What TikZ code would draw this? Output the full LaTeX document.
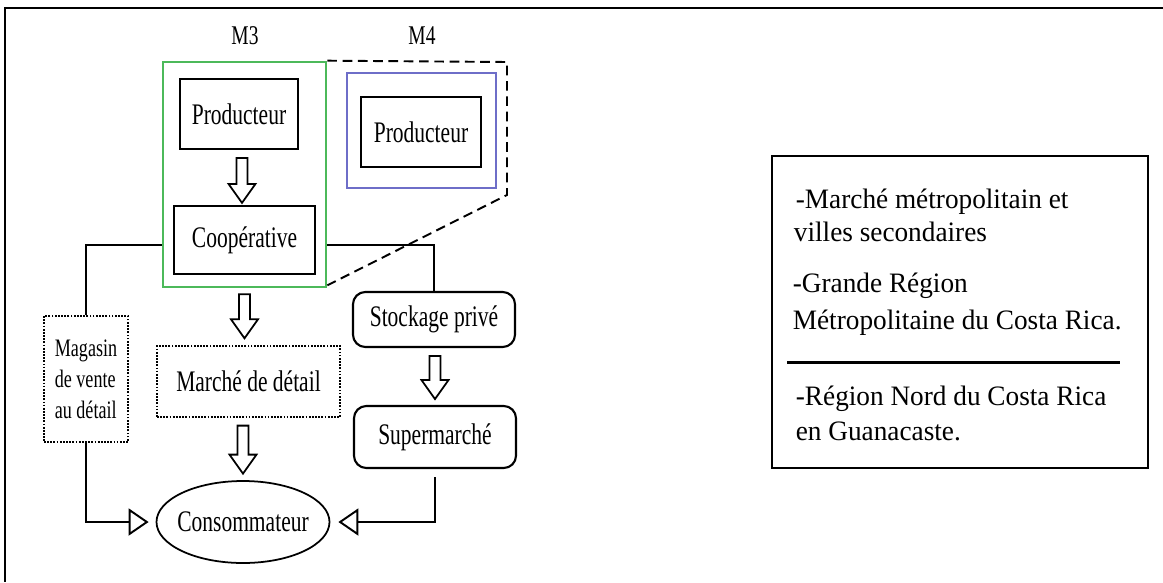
\documentclass[tikz,border=0pt]{standalone}
\usepackage{fontspec}
\setmainfont{Liberation Serif}
\newfontfamily\fA[FakeStretch=0.72]{Liberation Serif}
\newfontfamily\fB[FakeStretch=0.97]{Liberation Serif}
\usetikzlibrary{arrows.meta,calc,shapes.geometric}
\newdimen\px \px=0.02cm
\definecolor{mgreen}{RGB}{76,185,90}
\definecolor{mblue}{RGB}{110,110,200}
\newcommand\harr[2]{%
  \draw[line width=1pt, fill=white] #1 ++(-5.5,0) -- ++(0,#2-19) -- ++(-8,0) -- ++(13.5,19) -- ++(13.5,-19) -- ++(-8,0) -- ++(0,19-#2) -- cycle;}
\begin{document}
\begin{tikzpicture}[x=0.02cm,y=-0.02cm,line width=1pt,
  box/.style={draw, rectangle, inner sep=0pt, line width=1pt, font=\fA\fontsize{17}{20}\selectfont},
  dbox/.style={box, line width=0.7pt, dash pattern=on 1pt off 0.8pt},
  rbox/.style={box, rounded corners=7pt, line width=1.2pt},
  frame/.style={draw, rectangle, inner sep=0pt, line width=1.5pt},
  lbl/.style={inner sep=0pt, font=\fA\fontsize{15.4}{18}\selectfont},
  leg/.style={anchor=base west, inner sep=0pt, font=\fB\fontsize{16}{19}\selectfont},
  conn/.style={line width=1.1pt},
  tri/.style={-{Triangle[open,length=11.4pt,width=15.4pt,line width=1.1pt]}}]
\useasboundingbox (0,0) rectangle (1163,582);
% outer frame (right and bottom cut off)
\coordinate (fa) at (1163,8);
\coordinate (fb) at (5,8);
\coordinate (fc) at (5,582);
\draw[line width=1.3pt] (fa) -- (fb) -- (fc);

% M3 / M4
\node[lbl] (m3) at (245,36) {M3};
\node[lbl] (m4) at (422,36) {M4};

% frames
\node[frame, draw=mgreen, minimum width=163\px, minimum height=225\px] (green) at (244.5,174.5) {};
\node[frame, draw=mblue, minimum width=149\px, minimum height=115\px] (blue) at (421.5,130.5) {};

% boxes
\node[box, minimum width=118\px, minimum height=70\px] (prodA) at (239,114) {Producteur};
\node[box, minimum width=141\px, minimum height=68\px] (coop) at (244.5,240) {Coopérative};
\node[box, minimum width=120\px, minimum height=70\px] (prodB) at (421,132) {Producteur};
\node[rbox, minimum width=162\px, minimum height=55\px] (stock) at (434,319.5) {Stockage privé};
\node[rbox, minimum width=162\px, minimum height=62\px] (super) at (435,437) {Supermarché};
\node[dbox, minimum width=183\px, minimum height=71\px] (marche) at (248.5,381.5) {Marché de détail};
\node[dbox, minimum width=84\px, minimum height=126\px, align=left,
      font=\fA\fontsize{14.3}{17.6}\selectfont] (mag) at (86,379) {Magasin\\de vente\\au détail};
\node[box, ellipse, inner xsep=-3pt, inner ysep=0pt, minimum width=173\px, minimum height=82\px] (cons) at (243,522) {Consommateur};

% dashed outline of M4
\coordinate (d1) at (507,62);
\coordinate (d2) at (507,195);
\draw[line width=1.1pt, dash pattern=on 5.5pt off 3.2pt] (green.north east) -- (d1) -- (d2) -- ($(green.south east)+(0,-3)$);

% hollow block arrows
\harr{($(prodA.south)+(3,8)$)}{45}
\harr{($(green.south)+(0,6)$)}{44}
\harr{($(marche.south)+(-5.5,8)$)}{48}
\harr{($(stock.south)+(1,8)$)}{43}

% connectors
\draw[conn] ($(green.west)+(0,70.5)$) -| (mag.north);
\draw[conn] ($(green.east)+(0,70.5)$) -| (stock.north);
\draw[conn,tri] (mag.south) |- ($(cons.west)+(-7,0)$);
\draw[conn,tri] ($(super.south)+(0,8)$) |- ($(cons.east)+(8,0)$);

% legend
\node[draw, rectangle, inner sep=0pt, line width=1.1pt, minimum width=376\px, minimum height=312\px] (legbox) at (960,312) {};
\node[leg] (l1) at (795,208) {-Marché métropolitain et};
\node[leg] (l2) at (793,241) {villes secondaires};
\node[leg] (l3) at (792,292) {-Grande Région};
\node[leg] (l4) at (792,329) {Métropolitaine du Costa Rica.};
\coordinate (s1) at (787,362);
\coordinate (s2) at (1120,362);
\draw[line width=1.7pt] (s1) -- (s2);
\node[leg] (l5) at (795,405) {-Région Nord du Costa Rica};
\node[leg] (l6) at (795,440) {en Guanacaste.};
\end{tikzpicture}
\end{document}
